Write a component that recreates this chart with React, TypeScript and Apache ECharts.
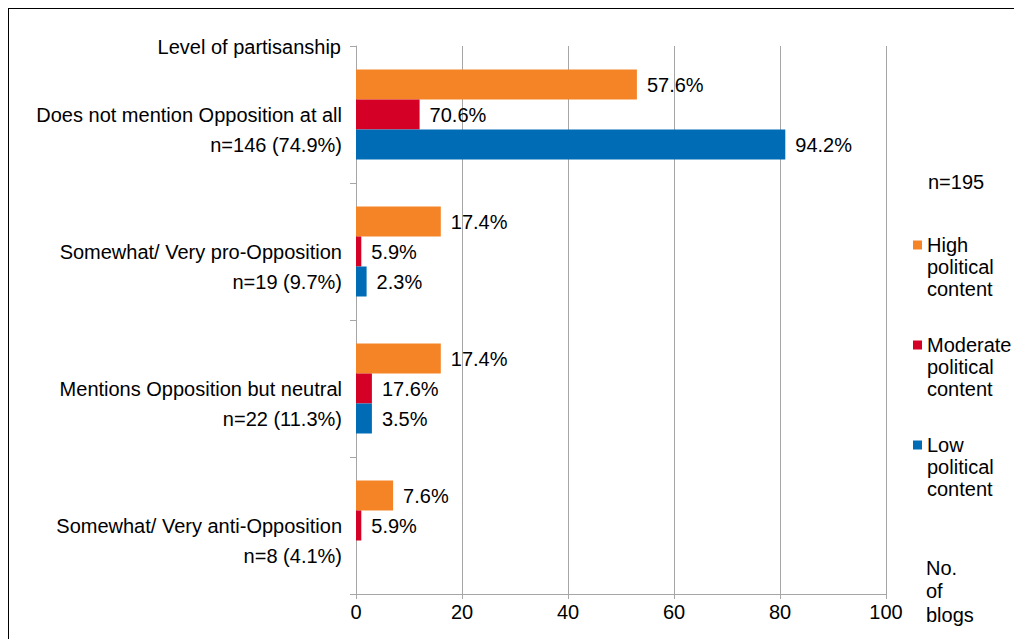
import React, { useEffect, useRef } from "react";
import * as echarts from "echarts";

const categories = [
  "Does not mention Opposition at all",
  "Somewhat/ Very pro-Opposition",
  "Mentions Opposition but neutral",
  "Somewhat/ Very anti-Opposition",
];
const categoryCounts = ["n=146 (74.9%)", "n=19 (9.7%)", "n=22 (11.3%)", "n=8 (4.1%)"];

const highValues = [53, 16, 16, 7];
const moderateValues = [12, 1, 3, 1];
const lowValues = [81, 2, 3, 0];

const highLabels = ["57.6%", "17.4%", "17.4%", "7.6%"];
const moderateLabels = ["70.6%", "5.9%", "17.6%", "5.9%"];
const lowLabels = ["94.2%", "2.3%", "3.5%", ""];

const xTicks = [0, 20, 40, 60, 80, 100];

const FONT = "'Liberation Sans', Arial, sans-serif";
const FS = 20;

export default function App() {
  const ref = useRef<HTMLDivElement>(null);
  useEffect(() => {
    if (!ref.current) return;
    const chart = echarts.init(ref.current, undefined, { renderer: "svg" });
    const mkSeries = (name: string, data: number[], labels: string[], color: string) => ({
      name,
      type: "bar",
      data,
      barWidth: 30,
      barGap: "0%",
      itemStyle: { color },
      label: {
        show: true,
        position: "right",
        distance: 10,
        fontSize: FS,
        fontFamily: FONT,
        color: "#000",
        formatter: (p: any) => labels[p.dataIndex],
      },
    });
    chart.setOption({
      animation: false,
      textStyle: { fontFamily: FONT },
      grid: { left: 348, top: 38, width: 530, height: 548 },
      xAxis: {
        type: "value",
        min: xTicks[0],
        max: xTicks[xTicks.length - 1],
        interval: 20,
        axisLine: { show: true, lineStyle: { color: "#a6a6a6", width: 1 } },
        axisTick: { show: true, length: 5, lineStyle: { color: "#a6a6a6" } },
        splitLine: { show: true, lineStyle: { color: "#a6a6a6", width: 1 } },
        axisLabel: { fontSize: FS, color: "#000", margin: 8, fontFamily: FONT },
      },
      yAxis: {
        type: "category",
        inverse: true,
        data: categories,
        axisLine: { show: true, lineStyle: { color: "#a6a6a6", width: 1 } },
        axisTick: { show: true, length: 6, lineStyle: { color: "#a6a6a6" } },
        axisLabel: {
          fontSize: FS,
          color: "#000",
          margin: 14,
          lineHeight: 30,
          align: "right",
          fontFamily: FONT,
          formatter: (v: string, i: number) => "\n" + v + "\n" + categoryCounts[i],
        },
      },
      legend: {
        orient: "vertical",
        left: 905,
        top: 182,
        padding: 0,
        itemGap: -10,
        itemWidth: 9,
        itemHeight: 9,
        icon: "rect",
        formatter: (n: string) => "\n\n" + n.split(" ").join("\n"),
        textStyle: {
          fontSize: FS,
          color: "#000",
          lineHeight: 22,
          fontFamily: FONT,
        },
        data: ["High political content", "Moderate political content", "Low political content"],
      },
      graphic: [
        {
          type: "rect",
          shape: { x: 0, y: 0, width: 2000, height: 2000 },
          style: { fill: "none", stroke: "#000", lineWidth: 2 },
          silent: true,
        },
        {
          type: "text",
          x: 333,
          y: 39,
          style: {
            text: "Level of partisanship",
            align: "right",
            verticalAlign: "middle",
            fontSize: FS,
            fill: "#000",
            fontFamily: FONT,
          },
        },
        {
          type: "text",
          x: 920,
          y: 174,
          style: {
            text: "n=195",
            align: "left",
            verticalAlign: "middle",
            fontSize: FS,
            fill: "#000",
            fontFamily: FONT,
          },
        },
        {
          type: "text",
          x: 918,
          y: 583,
          style: {
            text: "No.\nof\nblogs",
            align: "left",
            verticalAlign: "middle",
            fontSize: FS,
            lineHeight: 23.5,
            fill: "#000",
            fontFamily: FONT,
          },
        },
      ],
      series: [
        mkSeries("High political content", highValues, highLabels, "#F58426"),
        mkSeries("Moderate political content", moderateValues, moderateLabels, "#D50025"),
        mkSeries("Low political content", lowValues, lowLabels, "#006CB5"),
      ],
    });
    return () => chart.dispose();
  }, []);
  return <div ref={ref} style={{ width: 1014, height: 631 }} />;
}
